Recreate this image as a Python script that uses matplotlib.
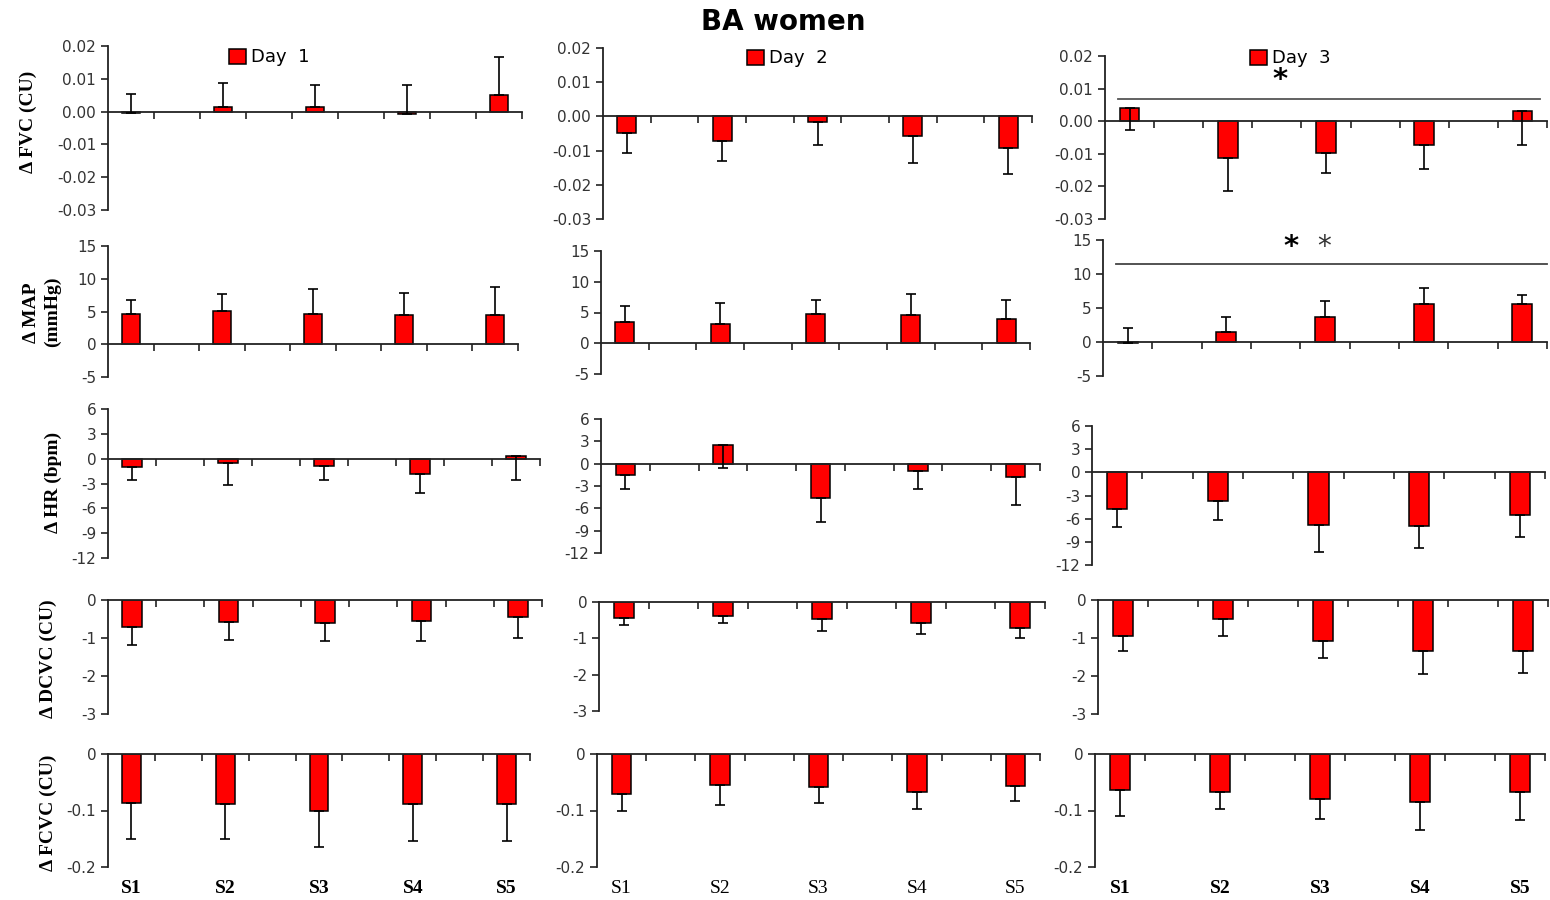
import numpy as np
import matplotlib
matplotlib.use("Agg")
import matplotlib.pyplot as plt

plt.rcParams['axes.unicode_minus'] = False
plt.rcParams['font.family'] = 'DejaVu Sans'

subjects = ["S1", "S2", "S3", "S4", "S5"]
days = ["Day  1", "Day  2", "Day  3"]

# means per day (rows) and signed error-bar extent (whisker end - mean)
fvc_mean = [[-0.0003, 0.0015, 0.0015, -0.0007, 0.005],
            [-0.0048, -0.0073, -0.0015, -0.0058, -0.0091],
            [0.0039, -0.0114, -0.0098, -0.0072, 0.0031]]
fvc_err = [[0.0058, 0.0073, 0.0065, 0.0087, 0.0115],
           [-0.006, -0.0058, -0.0068, -0.0078, -0.0077],
           [-0.0066, -0.0101, -0.006, -0.0075, -0.0103]]

map_mean = [[4.6, 5.1, 4.6, 4.4, 4.4],
            [3.4, 3.2, 4.7, 4.6, 3.9],
            [-0.1, 1.5, 3.75, 5.6, 5.6]]
map_err = [[2.2, 2.55, 3.8, 3.4, 4.4],
           [2.7, 3.4, 2.3, 3.4, 3.1],
           [2.15, 2.25, 2.3, 2.3, 1.25]]

hr_mean = [[-1.0, -0.5, -0.85, -1.85, 0.3],
           [-1.55, 2.5, -4.6, -0.95, -1.75],
           [-4.8, -3.75, -6.8, -6.95, -5.55]]
hr_err = [[-1.6, -2.7, -1.75, -2.3, -2.9],
          [-1.85, -3.05, -3.25, -2.45, -3.75],
          [-2.25, -2.45, -3.5, -2.8, -2.8]]

dcvc_mean = [[-0.72, -0.58, -0.61, -0.54, -0.46],
             [-0.45, -0.39, -0.46, -0.57, -0.72],
             [-0.94, -0.5, -1.09, -1.34, -1.34]]
dcvc_err = [[-0.47, -0.46, -0.47, -0.54, -0.54],
            [-0.19, -0.18, -0.33, -0.3, -0.26],
            [-0.39, -0.46, -0.43, -0.62, -0.58]]

fcvc_mean = [[-0.086, -0.088, -0.1, -0.088, -0.088],
             [-0.071, -0.054, -0.059, -0.068, -0.057],
             [-0.064, -0.068, -0.079, -0.085, -0.068]]
fcvc_err = [[-0.065, -0.063, -0.064, -0.066, -0.066],
            [-0.029, -0.036, -0.028, -0.029, -0.026],
            [-0.046, -0.029, -0.036, -0.049, -0.049]]

# significance bars on day 3
fvc_sig_level = 0.0067
map_sig_level = 11.45

W, H = 1550, 900
fig = plt.figure(figsize=(W / 100, H / 100), dpi=100)

# panel boxes in pixels: left, right, top, bottom
boxes = [
    [(108, 522, 46, 210), (603, 1032, 48, 219), (1105, 1547, 56, 219)],
    [(108, 518, 246, 377), (601, 1030, 251, 374), (1103, 1547, 240, 376)],
    [(108, 540, 409, 558), (601, 1040, 419, 553), (1092, 1545, 426, 565)],
    [(108, 542, 600, 714), (599, 1045, 602, 711), (1098, 1548, 600, 714)],
    [(108, 530, 754, 867), (597, 1040, 754, 867), (1095, 1545, 754, 867)],
]

rows = [
    (fvc_mean, fvc_err, (-0.03, 0.02), np.arange(-0.03, 0.0201, 0.01), lambda v: "%.2f" % v),
    (map_mean, map_err, (-5, 15), np.arange(-5, 16, 5), lambda v: "%d" % v),
    (hr_mean, hr_err, (-12, 6), np.arange(-12, 7, 3), lambda v: "%d" % v),
    (dcvc_mean, dcvc_err, (-3, 0), np.arange(-3, 1, 1), lambda v: "%d" % v),
    (fcvc_mean, fcvc_err, (-0.2, 0), [-0.2, -0.1, 0], lambda v: "0" if v == 0 else "%.1f" % v),
]

legend_anchor = [(0.39, 1.03), (0.43, 1.035), (0.42, 1.085)]

xpos = np.arange(0, 10, 2)
axes = []
for r, (means, errs, ylim, yt, fmt) in enumerate(rows):
    row_axes = []
    for c in range(3):
        l, rr, t, b = boxes[r][c]
        ax = fig.add_axes([l / W, 1 - b / H, (rr - l) / W, (b - t) / H])
        m = np.array(means[c])
        e = np.array(errs[c])
        bars = ax.bar(xpos, m, width=0.4, color='#ff0000', edgecolor='black',
                      linewidth=1.1, zorder=2, label=days[c])
        ax.errorbar(xpos, m, yerr=[np.clip(-e, 0, None), np.clip(e, 0, None)],
                    fmt='none', ecolor='black', elinewidth=1.2, capsize=3.5,
                    capthick=1.2, zorder=3)
        ax.set_xlim(-0.5, 8.5)
        ax.set_ylim(*ylim)
        ax.set_yticks(yt)
        ax.set_yticklabels([fmt(v) for v in yt])
        ax.set_xticks(np.arange(0.5, 9, 1))
        ax.set_xticklabels([])
        ax.spines['top'].set_visible(False)
        ax.spines['right'].set_visible(False)
        ax.spines['bottom'].set_position(('data', 0))
        for s in ('left', 'bottom'):
            ax.spines[s].set_linewidth(1.3)
            ax.spines[s].set_color('#222222')
        ax.tick_params(axis='y', direction='out', length=5, width=1.2,
                       labelsize=11, labelcolor='#333333', color='#222222')
        ax.tick_params(axis='x', direction='out', length=5, width=1.2, color='#222222')
        ax.set_facecolor('none')
        if r == 0:
            ax.legend(handles=[bars], labels=[days[c]], frameon=False,
                      loc='upper center', fontsize=13,
                      bbox_to_anchor=legend_anchor[c],
                      handlelength=0.9, handleheight=0.9, handletextpad=0.3,
                      borderaxespad=0)
        if r == 4:
            for x, s in zip(xpos, subjects):
                ax.text(x, -0.19, s, transform=ax.get_xaxis_transform(),
                        ha='center', va='center', family='Liberation Serif',
                        fontweight='normal' if c == 1 else 'bold', fontsize=14)
        row_axes.append(ax)
    axes.append(row_axes)

# day 3 significance markers
ax = axes[0][2]
ax.plot([-0.24, 8.36], [fvc_sig_level, fvc_sig_level], color='#555555', lw=1.3,
        clip_on=False, zorder=1)
ax.text(3.06, 0.0125, "*", ha='center', va='center', fontsize=21, fontweight='bold')
ax = axes[1][2]
ax.plot([-0.24, 8.5], [map_sig_level, map_sig_level], color='#444444', lw=1.3,
        clip_on=False, zorder=1)
ax.text(3.31, 14.0, "*", ha='center', va='center', fontsize=21, fontweight='bold')
ax.text(3.98, 14.0, "*", ha='center', va='center', fontsize=20, color='#333333')

# row labels
ylab_kw = dict(rotation=90, ha='center', va='center', family='Liberation Serif',
               fontweight='bold', fontsize=14)
fig.text(28 / W, 1 - 122 / H, "Δ FVC (CU)", **ylab_kw)
fig.text(31 / W, 1 - 313 / H, "Δ MAP", **ylab_kw)
fig.text(52 / W, 1 - 312 / H, "(mmHg)", **ylab_kw)
fig.text(53 / W, 1 - 482 / H, "Δ HR (bpm)", **ylab_kw)
fig.text(48 / W, 1 - 659 / H, "Δ DCVC (CU)", **ylab_kw)
fig.text(48 / W, 1 - 813 / H, "Δ FCVC (CU)", **ylab_kw)

fig.text(783 / W, 1 - 22 / H, "BA women", ha='center', va='center',
         fontsize=20, fontweight='bold')

fig.savefig("out.png", dpi=100)
